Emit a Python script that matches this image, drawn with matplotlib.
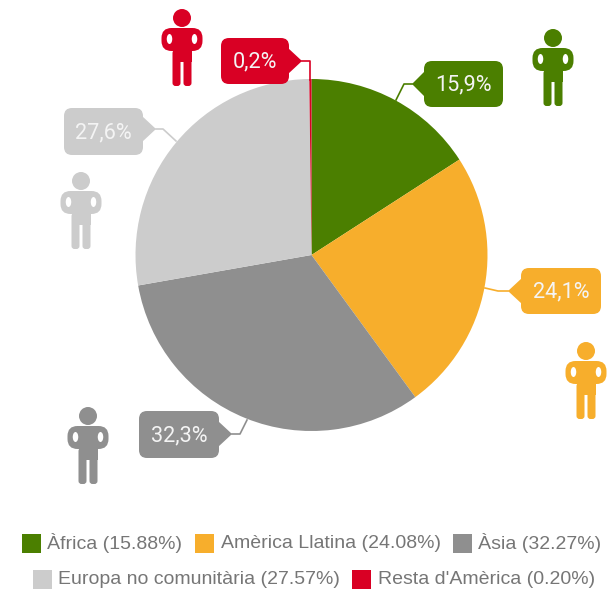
import matplotlib
matplotlib.use('Agg')
import matplotlib.pyplot as plt
from matplotlib.patches import Circle, Ellipse, FancyBboxPatch, Polygon, Rectangle

W, H = 612, 589

regions = ['Àfrica', 'Amèrica Llatina', 'Àsia', 'Europa no comunitària', "Resta d'Amèrica"]
shares = [15.88, 24.08, 32.27, 27.57, 0.20]
short_labels = ['15,9%', '24,1%', '32,3%', '27,6%', '0,2%']
legend_labels = ['Àfrica (15.88%)', 'Amèrica Llatina (24.08%)', 'Àsia (32.27%)',
                 'Europa no comunitària (27.57%)', "Resta d'Amèrica (0.20%)"]
colors = ['#4b7f00', '#f7ae2c', '#8f8f8f', '#cccccc', '#d90024']

# box x0, x1, y0, y1, pointer tip, leader points (in image pixels)
bubbles = [
    (424, 503, 61, 107, (412, 84), [(412, 84), (404, 84), (396, 100)]),
    (521, 601, 268, 314, (508, 291), [(508, 291), (498, 291), (485, 288)]),
    (139, 219, 411, 458, (232, 434), [(232, 434), (240, 434), (247, 420)]),
    (64, 143, 108, 155, (156, 129), [(156, 129), (163, 129), (176, 141)]),
    (221, 289, 38, 84, (302, 61), [(302, 61), (310, 61), (310, 80)]),
]
people = [(553, 30), (586, 343), (88, 408), (81, 173), (182, 10)]
legend_pos = [(22, 543, 47), (195, 543, 221), (453, 543, 478), (33, 579, 58), (352, 579, 378)]


def py(y):
    return H - y


def draw_person(ax, cx, top, color):
    # 76 px tall figure, drawn from simple shapes
    ax.add_patch(Circle((cx, py(top + 8)), 9, fc=color, ec='none'))
    ax.add_patch(FancyBboxPatch((cx - 20.5, py(top + 41)), 41, 23, boxstyle='round,pad=0,rounding_size=10',
                                fc=color, ec='none'))
    ax.add_patch(Rectangle((cx - 9.5, py(top + 52)), 19, 34, fc=color, ec='none'))
    for side in (-1, 1):
        ax.add_patch(Ellipse((cx + side * 12.5, py(top + 29)), 5.5, 10, fc='white', ec='none'))
    for x0 in (cx - 9.5, cx + 1.5):
        ax.add_patch(FancyBboxPatch((x0, py(top + 76)), 8, 36, boxstyle='round,pad=0,rounding_size=3',
                                    fc=color, ec='none'))


def draw_bubble(ax, spec, text, color):
    x0, x1, y0, y1, tip, leader = spec
    ax.plot([p[0] for p in leader], [py(p[1]) for p in leader], color=color, lw=1.2, zorder=5)
    ax.add_patch(FancyBboxPatch((x0, py(y1)), x1 - x0, y1 - y0, boxstyle='round,pad=0,rounding_size=8',
                                fc=color, ec='none', zorder=6))
    edge = x1 - 1 if tip[0] > x1 else x0 + 1
    ax.add_patch(Polygon([(edge, py(tip[1] - 13)), (tip[0], py(tip[1])), (edge, py(tip[1] + 13))],
                         fc=color, ec='none', zorder=6))
    ax.text((x0 + x1) / 2, py((y0 + y1) / 2) - 1, text, color='#f4f4f4', fontsize=15.6, ha='center', va='center',
            family='Roboto', zorder=7)


def main():
    fig = plt.figure(figsize=(W / 100, H / 100), dpi=100)
    ax = fig.add_axes([0, 0, 1, 1])

    ax.pie(shares, colors=colors, startangle=90, counterclock=False, center=(311.5, py(255)), radius=176,
           frame=True)
    ax.set_xlim(0, W)
    ax.set_ylim(0, H)
    ax.set_aspect('auto')
    ax.axis('off')

    for spec, text, color in zip(bubbles, short_labels, colors):
        draw_bubble(ax, spec, text, color)
    for (cx, top), color in zip(people, colors):
        draw_person(ax, cx, top, color)

    for (sx, ly, tx), label, color in zip(legend_pos, legend_labels, colors):
        ax.add_patch(Rectangle((sx, py(ly + 9.5)), 19, 19, fc=color, ec='none'))
        ax.text(tx, py(ly), label, color='#767676', fontsize=14, ha='left', va='center',
                family='Liberation Sans')

    fig.savefig('out.png', dpi=100)


if __name__ == '__main__':
    main()
